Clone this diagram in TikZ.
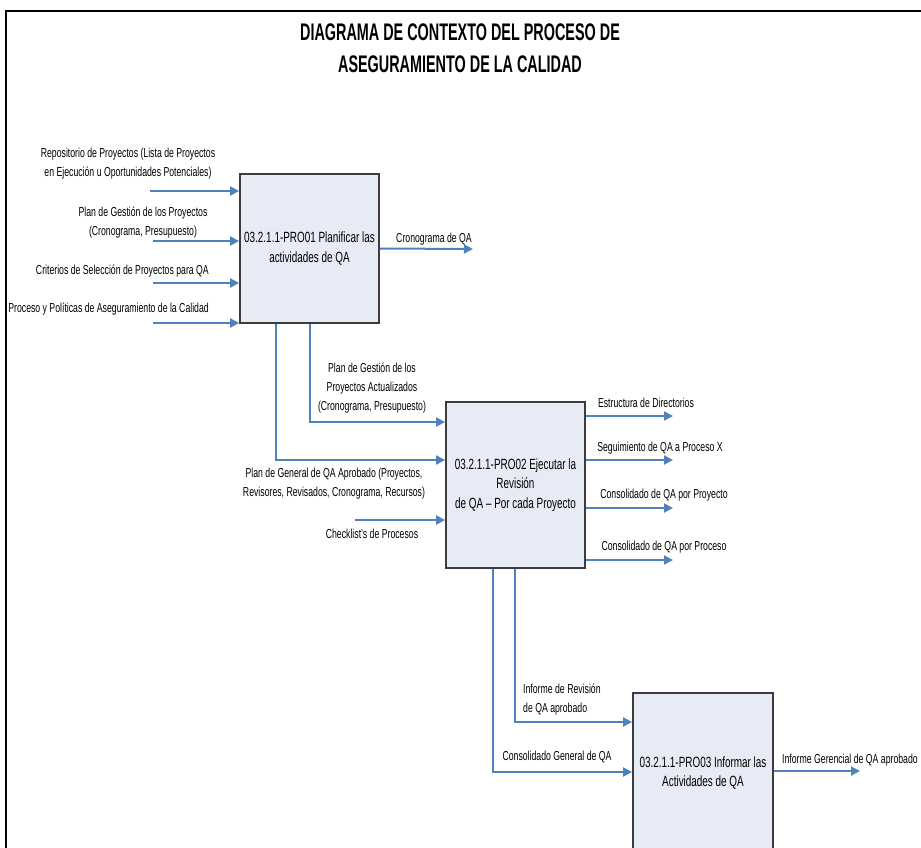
\documentclass[tikz,border=0pt]{standalone}
\usepackage{fontspec}
\setmainfont{Liberation Sans}[FakeStretch=0.67]
\newfontfamily\titlefont{Liberation Sans}[FakeStretch=0.6]
\usetikzlibrary{arrows.meta}
\definecolor{flowblue}{RGB}{79,129,189}
\definecolor{boxfill}{RGB}{231,235,246}
\definecolor{boxline}{RGB}{60,60,60}

\begin{document}
\begin{tikzpicture}[x=1pt,y=-1pt,
  procbox/.style={draw=boxline, line width=1.8pt, fill=boxfill, align=center,
    font=\fontsize{14.8}{19.5}\selectfont, inner sep=0pt},
  flow/.style={draw=flowblue, line width=2pt, -{Triangle[length=9pt,width=9pt]}},
  lbl/.style={align=center, font=\fontsize{13}{19}\selectfont, inner sep=0pt},
  titletext/.style={align=center, font={\titlefont\bfseries\fontsize{24}{32}\selectfont}, inner sep=0pt}
]
\useasboundingbox (0,0) rectangle (921,847);
\fill[white] (0,0) rectangle (921,847);

% page frame (left and top edges)
\draw[line width=2pt] (6,870) -- (6,11) -- (940,11);

% title
\node[titletext] (title) at (460,48) {DIAGRAMA DE CONTEXTO DEL PROCESO DE\\ASEGURAMIENTO DE LA CALIDAD};

% processes
\node[procbox, minimum width=139pt, minimum height=149pt] (b1) at (309.5,248.5)
  {03.2.1.1-PRO01 Planificar las\\actividades de QA};
\node[procbox, minimum width=139pt, minimum height=166pt] (b2) at (515.5,485)
  {03.2.1.1-PRO02 Ejecutar la\\Revisión\\de QA – Por cada Proyecto};
\node[procbox, minimum width=140pt, minimum height=160pt] (b3) at (703,773)
  {03.2.1.1-PRO03 Informar las\\Actividades de QA};

% inputs of PRO01
\coordinate (i11) at (150,191);
\coordinate (i12) at (153,241);
\coordinate (i13) at (153,283);
\coordinate (i14) at (153,323);
\draw[flow] (i11) -- (i11 -| b1.west);
\draw[flow] (i12) -- (i12 -| b1.west);
\draw[flow] (i13) -- (i13 -| b1.west);
\draw[flow] (i14) -- (i14 -| b1.west);
\node[lbl] (l11) at (128,163.5) {Repositorio de Proyectos (Lista de Proyectos\\en Ejecución u Oportunidades Potenciales)};
\node[lbl] (l12) at (143,223) {Plan de Gestión de los Proyectos\\(Cronograma, Presupuesto)};
\node[lbl, anchor=east] (l13) at (209,271) {Criterios de Selección de Proyectos para QA};
\node[lbl, anchor=east] (l14) at (209,309) {Proceso y Políticas de Aseguramiento de la Calidad};

% output of PRO01
\coordinate (o11) at (473,249);
\draw[flow] (b1.east) -- (o11);
\node[lbl] (lo11) at (434,239) {Cronograma de QA};

% PRO01 -> PRO02
\draw[flow] (b1.south) |- ([yshift=63pt]b2.west);
\draw[flow] ([xshift=-33.5pt]b1.south) |- ([yshift=25pt]b2.west);
\node[lbl] (l21) at (372,388) {Plan de Gestión de los\\Proyectos Actualizados\\(Cronograma, Presupuesto)};
\node[lbl] (l22) at (334,484) {Plan de General de QA Aprobado (Proyectos,\\Revisores, Revisados, Cronograma, Recursos)};

% other input of PRO02
\coordinate (i23) at (355,520);
\draw[flow] (i23) -- (i23 -| b2.west);
\node[lbl] (l23) at (372,534) {Checklist's de Procesos};

% outputs of PRO02
\coordinate (o21) at (673,416);
\coordinate (o22) at (673,460);
\coordinate (o23) at (673,508);
\coordinate (o24) at (673,560);
\draw[flow] (o21 -| b2.east) -- (o21);
\draw[flow] (o22 -| b2.east) -- (o22);
\draw[flow] (o23 -| b2.east) -- (o23);
\draw[flow] (o24 -| b2.east) -- (o24);
\node[lbl] (lo21) at (646,403) {Estructura de Directorios};
\node[lbl] (lo22) at (660,448) {Seguimiento de QA a Proceso X};
\node[lbl] (lo23) at (664,495) {Consolidado de QA por Proyecto};
\node[lbl] (lo24) at (664,547) {Consolidado de QA por Proceso};

% PRO02 -> PRO03
\draw[flow] ([xshift=-0.5pt]b2.south) |- ([yshift=51pt]b3.west);
\draw[flow] ([xshift=-22.5pt]b2.south) |- ([yshift=1pt]b3.west);
\node[lbl, align=left, anchor=west] (l31) at (523,700) {Informe de Revisión\\de QA aprobado};
\node[lbl] (l32) at (557,757) {Consolidado General de QA};

% output of PRO03
\coordinate (o31) at (860,771);
\draw[flow] (o31 -| b3.east) -- (o31);
\node[lbl, anchor=west] (lo31) at (782,760) {Informe Gerencial de QA aprobado};
\end{tikzpicture}
\end{document}
